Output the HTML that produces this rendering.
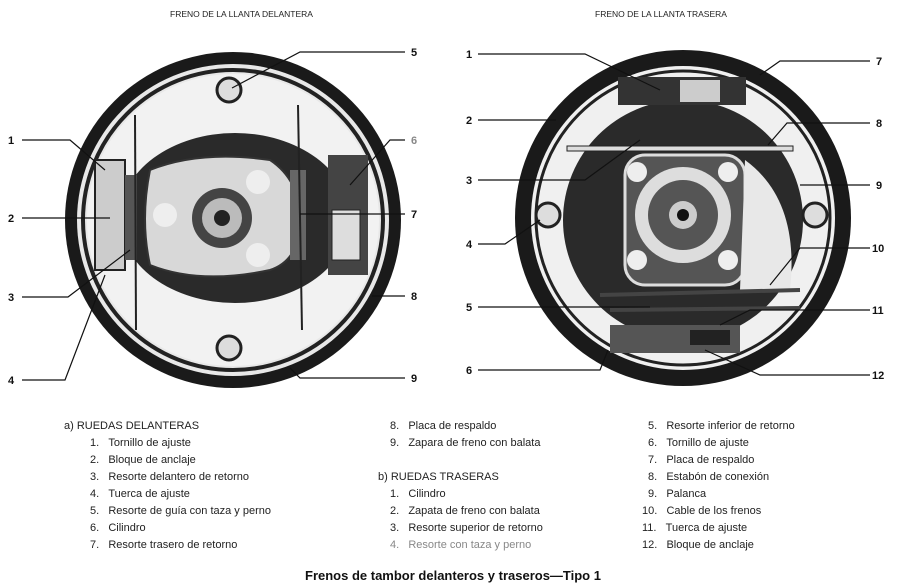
<!DOCTYPE html>
<html><head><meta charset="utf-8"><style>
body{margin:0;width:902px;height:586px;background:#fff;overflow:hidden;font-family:"Liberation Sans",sans-serif;}
svg{position:absolute;left:0;top:0}
.t{font-size:11px;fill:#222;font-family:"Liberation Sans Narrow","Liberation Sans",sans-serif}
.n{font-size:11px;fill:#111;font-weight:bold}
.s{font-size:8.5px;fill:#222}
</style></head><body>
<svg width="902" height="586" viewBox="0 0 902 586">
<text class="s" x="170" y="17">FRENO DE LA LLANTA DELANTERA</text>
<text class="s" x="595" y="17">FRENO DE LA LLANTA TRASERA</text>

<!-- LEFT DRUM -->
<g>
<circle cx="233" cy="220" r="168" fill="#1a1a1a"/>
<circle cx="233" cy="220" r="156" fill="#e8e8e8"/>
<circle cx="233" cy="220" r="150" fill="none" stroke="#222" stroke-width="4"/>
<circle cx="233" cy="220" r="146" fill="#f2f2f2"/>
<ellipse cx="235" cy="218" rx="115" ry="85" fill="#2a2a2a"/>
<path d="M150 170 Q200 150 270 160 Q300 180 300 220 Q300 260 270 270 Q200 285 150 265 Q140 220 150 170Z" fill="#d8d8d8" stroke="#333" stroke-width="2"/>
<circle cx="222" cy="218" r="30" fill="#444"/><circle cx="222" cy="218" r="20" fill="#bbb"/><circle cx="222" cy="218" r="8" fill="#222"/>
<circle cx="258" cy="182" r="12" fill="#eee"/><circle cx="258" cy="255" r="12" fill="#eee"/><circle cx="165" cy="215" r="12" fill="#eee"/>
<rect x="95" y="160" width="30" height="110" fill="#ccc" stroke="#222" stroke-width="2"/>
<rect x="328" y="155" width="40" height="120" fill="#444"/><rect x="332" y="210" width="28" height="50" fill="#ddd" stroke="#222"/>
<rect x="125" y="175" width="12" height="85" fill="#555"/><rect x="290" y="170" width="16" height="90" fill="#666"/>
<line x1="135" y1="115" x2="136" y2="330" stroke="#222" stroke-width="2"/>
<line x1="298" y1="105" x2="302" y2="330" stroke="#222" stroke-width="2"/>
<circle cx="229" cy="90" r="12" fill="#ddd" stroke="#222" stroke-width="3"/>
<circle cx="229" cy="348" r="12" fill="#ddd" stroke="#222" stroke-width="3"/>
</g>

<!-- RIGHT DRUM -->
<g>
<circle cx="683" cy="218" r="168" fill="#1a1a1a"/>
<circle cx="683" cy="218" r="152" fill="#f0f0f0"/>
<circle cx="683" cy="218" r="147" fill="none" stroke="#222" stroke-width="3"/>
<ellipse cx="683" cy="220" rx="120" ry="120" fill="#2a2a2a"/>
<rect x="625" y="155" width="120" height="130" rx="20" fill="#555" stroke="#ddd" stroke-width="3"/>
<circle cx="683" cy="215" r="48" fill="#ddd"/><circle cx="683" cy="215" r="35" fill="#555"/><circle cx="683" cy="215" r="14" fill="#ccc"/><circle cx="683" cy="215" r="6" fill="#111"/>
<circle cx="637" cy="172" r="10" fill="#eee"/><circle cx="728" cy="172" r="10" fill="#eee"/><circle cx="637" cy="260" r="10" fill="#eee"/><circle cx="728" cy="260" r="10" fill="#eee"/>
<path d="M745 160 Q800 200 790 290 L740 290Z" fill="#e8e8e8"/>
<rect x="567" y="146" width="226" height="5" fill="#ddd" stroke="#222"/>
<rect x="618" y="77" width="128" height="28" fill="#333"/><rect x="680" y="80" width="40" height="22" fill="#ccc"/>
<rect x="610" y="325" width="130" height="28" fill="#555"/><rect x="690" y="330" width="40" height="15" fill="#222"/>
<line x1="610" y1="310" x2="800" y2="308" stroke="#444" stroke-width="4"/>
<line x1="600" y1="295" x2="800" y2="290" stroke="#444" stroke-width="4"/>
<circle cx="548" cy="215" r="12" fill="#ddd" stroke="#222" stroke-width="3"/>
<circle cx="815" cy="215" r="12" fill="#ddd" stroke="#222" stroke-width="3"/>
</g>

<!-- leaders -->
<g stroke="#111" stroke-width="1.2" fill="none">
<path d="M22 140 H70 L105 170"/><path d="M22 218 H110"/><path d="M22 297 H68 L130 250"/><path d="M22 380 H65 L105 275"/>
<path d="M405 52 H300 L232 88"/><path d="M405 140 H390 L350 185"/><path d="M405 214 H300"/><path d="M405 296 H372"/><path d="M405 378 H300 L290 368"/>
<path d="M478 54 H585 L660 90"/><path d="M478 120 H556"/><path d="M478 180 H585 L640 140"/><path d="M478 244 H505 L540 220"/><path d="M478 307 H650"/><path d="M478 370 H600 L608 350"/>
<path d="M870 61 H780 L760 75"/><path d="M870 123 H787 L768 145"/><path d="M870 185 H800"/><path d="M870 248 H800 L770 285"/><path d="M870 310 H750 L720 325"/><path d="M870 375 H760 L705 350"/>
</g>
<g class="n">
<text x="8" y="144">1</text><text x="8" y="222">2</text><text x="8" y="301">3</text><text x="8" y="384">4</text>
<text x="411" y="56">5</text><text x="411" y="144" style="fill:#888">6</text><text x="411" y="218">7</text><text x="411" y="300">8</text><text x="411" y="382">9</text>
<text x="466" y="58">1</text><text x="466" y="124">2</text><text x="466" y="184">3</text><text x="466" y="248">4</text><text x="466" y="311">5</text><text x="466" y="374">6</text>
<text x="876" y="65">7</text><text x="876" y="127">8</text><text x="876" y="189">9</text><text x="872" y="252">10</text><text x="872" y="314">11</text><text x="872" y="379">12</text>
</g>

<!-- legend -->
<g class="t">
<text x="64" y="429">a) RUEDAS DELANTERAS</text>
<text x="90" y="446">1.&#160;&#160;&#160;Tornillo de ajuste</text>
<text x="90" y="463">2.&#160;&#160;&#160;Bloque de anclaje</text>
<text x="90" y="480">3.&#160;&#160;&#160;Resorte delantero de retorno</text>
<text x="90" y="497">4.&#160;&#160;&#160;Tuerca de ajuste</text>
<text x="90" y="514">5.&#160;&#160;&#160;Resorte de guía con taza y perno</text>
<text x="90" y="531">6.&#160;&#160;&#160;Cilindro</text>
<text x="90" y="548">7.&#160;&#160;&#160;Resorte trasero de retorno</text>
<text x="390" y="429">8.&#160;&#160;&#160;Placa de respaldo</text>
<text x="390" y="446">9.&#160;&#160;&#160;Zapara de freno con balata</text>
<text x="378" y="480">b) RUEDAS TRASERAS</text>
<text x="390" y="497">1.&#160;&#160;&#160;Cilindro</text>
<text x="390" y="514">2.&#160;&#160;&#160;Zapata de freno con balata</text>
<text x="390" y="531">3.&#160;&#160;&#160;Resorte superior de retorno</text>
<text x="390" y="548" style="fill:#888">4.&#160;&#160;&#160;Resorte con taza y perno</text>
<text x="648" y="429">5.&#160;&#160;&#160;Resorte inferior de retorno</text>
<text x="648" y="446">6.&#160;&#160;&#160;Tornillo de ajuste</text>
<text x="648" y="463">7.&#160;&#160;&#160;Placa de respaldo</text>
<text x="648" y="480">8.&#160;&#160;&#160;Estabón de conexión</text>
<text x="648" y="497">9.&#160;&#160;&#160;Palanca</text>
<text x="642" y="514">10.&#160;&#160;&#160;Cable de los frenos</text>
<text x="642" y="531">11.&#160;&#160;&#160;Tuerca de ajuste</text>
<text x="642" y="548">12.&#160;&#160;&#160;Bloque de anclaje</text>
</g>
<text x="453" y="580" text-anchor="middle" style="font-size:13px;font-weight:bold;fill:#111">Frenos de tambor delanteros y traseros—Tipo 1</text>
</svg>
</body></html>
